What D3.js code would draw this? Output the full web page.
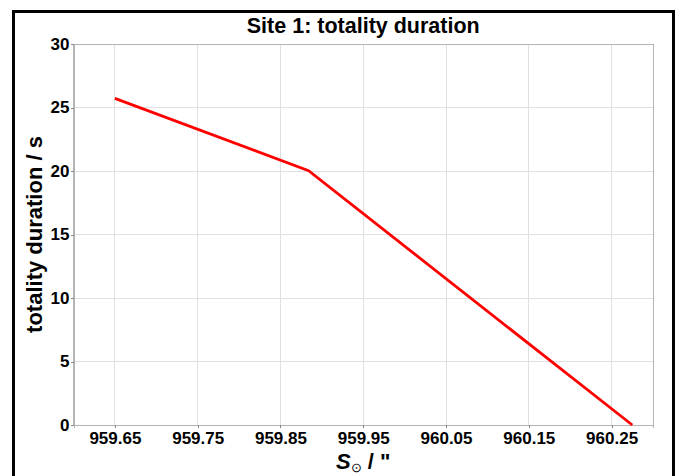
<!DOCTYPE html>
<html><head><meta charset="utf-8">
<script src="https://cdn.jsdelivr.net/npm/d3@7/dist/d3.min.js"></script>
<style>body{margin:0;background:#fff}svg{display:block}text{font-family:"Liberation Sans",Arial,sans-serif;font-weight:bold}</style>
</head><body><svg id="c" width="680" height="476"></svg>
<script>
const sunRadius = [959.65, 959.884, 960.275];
const duration = [25.72, 20.02, 0];
const xTicks = [959.65, 959.75, 959.85, 959.95, 960.05, 960.15, 960.25];
const yTicks = [0, 5, 10, 15, 20, 25, 30];
const titleText = "Site 1: totality duration";
const yLabel = "totality duration / s";

const svg = d3.select("#c");
const L = 73.5, R = 653, T = 44, B = 425;
const x = d3.scaleLinear().domain([959.6, 960.3]).range([L, R]);
const y = d3.scaleLinear().domain([0, 30]).range([B, T]);

svg.append("rect").attr("x", 13.5).attr("y", 11.5).attr("width", 660).attr("height", 480)
  .attr("fill", "none").attr("stroke", "#000").attr("stroke-width", 3);

// grid
svg.append("g").selectAll("line").data(xTicks).join("line")
  .attr("x1", d => x(d)).attr("x2", d => x(d)).attr("y1", T).attr("y2", B)
  .attr("stroke", "#e0e0e0").attr("stroke-width", 1).attr("shape-rendering", "crispEdges");
svg.append("g").selectAll("line").data(yTicks).join("line")
  .attr("x1", L).attr("x2", R).attr("y1", d => y(d)).attr("y2", d => y(d))
  .attr("stroke", "#e0e0e0").attr("stroke-width", 1).attr("shape-rendering", "crispEdges");

svg.append("rect").attr("x", L).attr("y", T).attr("width", R - L).attr("height", B - T)
  .attr("fill", "none").attr("stroke", "#b4b4b4").attr("stroke-width", 1).attr("shape-rendering", "crispEdges");

const xAxis = svg.append("g").attr("transform", `translate(0,${B})`)
  .call(d3.axisBottom(x).tickValues(xTicks).tickFormat(d3.format(".2f")).tickSize(3).tickPadding(4));
const yAxis = svg.append("g").attr("transform", `translate(${L},0)`)
  .call(d3.axisLeft(y).tickValues(yTicks).tickSize(3).tickPadding(1));
[xAxis, yAxis].forEach(g => {
  g.select(".domain").attr("stroke", "#b4b4b4").attr("shape-rendering", "crispEdges");
  g.selectAll(".tick line").attr("stroke", "#888").attr("shape-rendering", "crispEdges");
  g.selectAll("text").attr("fill", "#000").style("font-size", "17px").style("font-family", '"Liberation Sans",Arial,sans-serif').style("font-weight", "bold");
});

const pts = sunRadius.map((v, i) => [v, duration[i]]);
svg.append("path").datum(pts)
  .attr("d", d3.line().x(d => x(d[0])).y(d => y(d[1])))
  .attr("fill", "none").attr("stroke", "#ff0000").attr("stroke-width", 2.8);

svg.append("text").attr("x", (L + R) / 2).attr("y", 33).attr("text-anchor", "middle")
  .style("font-size", "21.5px").text(titleText);

svg.append("text").attr("transform", `translate(42,${(T + B) / 2}) rotate(-90)`)
  .attr("text-anchor", "middle").style("font-size", "22px").text(yLabel);

const xl = svg.append("text").attr("x", (L + R) / 2).attr("y", 469).attr("text-anchor", "middle").style("font-size", "22px");
xl.append("tspan").style("font-style", "italic").text("S");
xl.append("tspan").attr("dy", 3).style("font-size", "13px").style("font-weight", "normal").text("\u2299");
xl.append("tspan").attr("dy", -3).text(" / \"");
</script></body></html>
